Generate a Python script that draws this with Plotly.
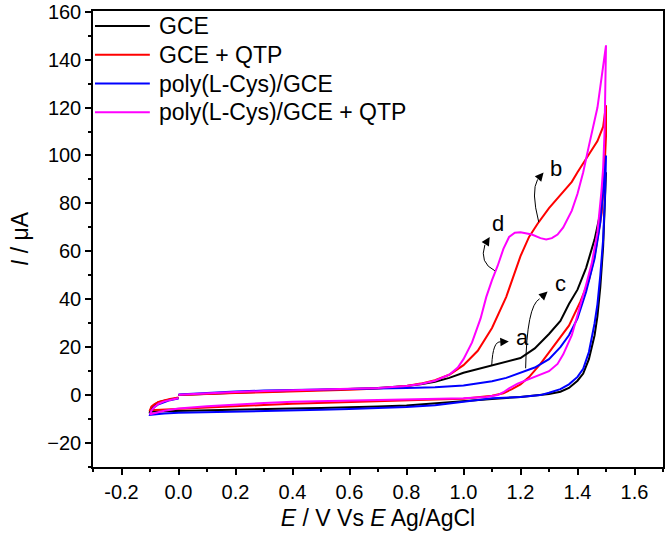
import plotly.graph_objects as go

# ---------------- data ----------------
E_gce = [0.0, 0.1, 0.2, 0.3, 0.4, 0.5, 0.6, 0.7, 0.8, 0.85, 0.9, 0.95, 1.0, 1.05, 1.1, 1.15, 1.2, 1.25, 1.3, 1.34, 1.37, 1.4, 1.43, 1.46, 1.48, 1.5,
         1.495, 1.49, 1.48, 1.47, 1.46, 1.44, 1.42, 1.4, 1.37, 1.34, 1.3, 1.25, 1.2, 1.1, 1.0, 0.9, 0.8, 0.7, 0.6, 0.5, 0.4, 0.3, 0.2, 0.1, 0.0, -0.05, -0.09, -0.1,
         -0.095, -0.085, -0.07, -0.05, -0.03, -0.01, 0.0]
I_gce = [0.0, 0.6, 1.0, 1.4, 1.8, 2.1, 2.5, 3.0, 3.8, 4.5, 5.6, 7.2, 9.3, 10.8, 12.4, 13.8, 15.5, 19.5, 25.5, 31, 38, 44, 53, 65, 76, 93,
         78, 62, 45, 33, 25, 15, 9, 6, 3, 1.4, 0.5, -0.2, -0.8, -1.6, -2.5, -3.6, -4.3, -4.8, -5.2, -5.4, -5.6, -5.8, -6.0, -6.2, -6.4, -6.6, -6.8, -7.0,
         -5.2, -4.0, -3.0, -2.3, -1.8, -1.4, -1.2]

E_gce_qtp = [0.0, 0.1, 0.2, 0.3, 0.4, 0.5, 0.6, 0.7, 0.8, 0.85, 0.9, 0.95, 1.0, 1.05, 1.1, 1.15, 1.2, 1.23, 1.26, 1.3, 1.33, 1.38, 1.4, 1.45, 1.47, 1.49, 1.5,
             1.5, 1.495, 1.485, 1.46, 1.44, 1.41, 1.37, 1.32, 1.27, 1.23, 1.2, 1.17, 1.14, 1.1, 1.05, 1.0, 0.9, 0.8, 0.7, 0.6, 0.5, 0.4, 0.3, 0.2, 0.1, 0.0, -0.05, -0.1,
             -0.095, -0.085, -0.07, -0.05, -0.03, -0.01, 0.0]
I_gce_qtp = [0.0, 0.6, 0.9, 1.2, 1.5, 1.8, 2.2, 2.8, 3.8, 4.8, 6.2, 8.5, 12.5, 18.5, 28, 41, 58, 66, 71.5, 78, 82, 89, 93, 102, 106, 112, 121,
             108, 95, 76, 58, 48, 39, 29, 21, 13, 7.5, 4.5, 2.5, 0.8, -0.3, -1.0, -1.5, -1.8, -2.1, -2.5, -2.9, -3.3, -3.6, -4.1, -4.6, -5.1, -5.6, -5.9, -6.3,
             -4.8, -3.8, -2.8, -2.1, -1.6, -1.2, -1.0]

E_pcys = [0.0, 0.1, 0.2, 0.3, 0.4, 0.5, 0.6, 0.7, 0.8, 0.9, 1.0, 1.05, 1.1, 1.15, 1.2, 1.25, 1.3, 1.34, 1.37, 1.4, 1.43, 1.46, 1.48, 1.5,
          1.497, 1.49, 1.48, 1.47, 1.46, 1.44, 1.42, 1.4, 1.37, 1.34, 1.3, 1.27, 1.2, 1.1, 1.05, 1.0, 0.94, 0.9, 0.8, 0.7, 0.6, 0.5, 0.4, 0.3, 0.2, 0.1, 0.0, -0.05, -0.1,
          -0.095, -0.085, -0.07, -0.05, -0.03, -0.01, 0.0]
I_pcys = [0.3, 1.0, 1.5, 1.9, 2.2, 2.4, 2.6, 2.8, 3.0, 3.3, 4.0, 4.8, 5.8, 7.2, 9.5, 11.5, 15, 20, 25, 32, 43, 57, 72, 100,
          85, 65, 50, 38, 30, 18, 11, 7.6, 4.5, 2.5, 1.0, 0.0, -0.8, -1.3, -2.0, -2.8, -3.5, -4.2, -5.0, -5.5, -5.8, -6.1, -6.3, -6.6, -6.9, -7.1, -7.4, -7.7, -8.2,
          -6.5, -5.0, -3.8, -2.8, -2.1, -1.6, -1.4]

E_pcys_qtp = [0.0, 0.1, 0.2, 0.3, 0.4, 0.5, 0.6, 0.7, 0.8, 0.85, 0.9, 0.95, 0.98, 1.0, 1.03, 1.06, 1.08, 1.1, 1.12, 1.14, 1.16, 1.18, 1.2, 1.24, 1.27, 1.29, 1.31, 1.33, 1.35, 1.38, 1.4, 1.42, 1.44, 1.47, 1.5,
              1.498, 1.495, 1.49, 1.484, 1.47, 1.45, 1.43, 1.4, 1.38, 1.35, 1.33, 1.3, 1.27, 1.25, 1.22, 1.19, 1.16, 1.14, 1.12, 1.08, 1.0, 0.9, 0.8, 0.7, 0.6, 0.5, 0.4, 0.3, 0.2, 0.1, 0.0, -0.05, -0.1,
              -0.095, -0.085, -0.07, -0.05, -0.03, -0.01, 0.0]
I_pcys_qtp = [0.2, 0.9, 1.3, 1.7, 2.0, 2.3, 2.6, 3.0, 3.8, 4.6, 6.0, 8.5, 11.5, 15, 22, 32, 41, 48, 54, 61, 66, 67.8, 68, 67, 65.5, 65, 65.5, 67, 70, 77, 84, 93, 104, 120, 146,
              125, 110, 95, 85, 68, 55, 46, 33, 25, 17, 13, 10, 8.5, 7.6, 6.3, 4.8, 2.8, 1.2, 0.0, -0.8, -1.3, -1.5, -1.7, -1.9, -2.1, -2.4, -2.8, -3.3, -3.9, -4.6, -5.6, -6.5, -8.0,
              -6.5, -5.0, -3.6, -2.6, -1.9, -1.5, -1.3]

series_names = ["GCE", "GCE + QTP", "poly(L-Cys)/GCE", "poly(L-Cys)/GCE + QTP"]
series_colors = ["#000000", "#ff0000", "#0000ff", "#ff00ff"]
series_E = [E_gce, E_gce_qtp, E_pcys, E_pcys_qtp]
series_I = [I_gce, I_gce_qtp, I_pcys, I_pcys_qtp]

x_tick_vals = [-0.2, 0.0, 0.2, 0.4, 0.6, 0.8, 1.0, 1.2, 1.4, 1.6]
x_tick_text = ["-0.2", "0.0", "0.2", "0.4", "0.6", "0.8", "1.0", "1.2", "1.4", "1.6"]
y_tick_vals = [-20, 0, 20, 40, 60, 80, 100, 120, 140, 160]

# curved-arrow labels: letter, text pos, path start, control, end, arrow tip
labels = ["a", "b", "c", "d"]
label_pos = [(1.208, 24.1), (1.323, 94.6), (1.34, 46.5), (1.12, 71.8)]
arrow_start = [(1.099, 12.4), (1.264, 72.2), (1.218, 11.2), (1.11, 51.9)]
arrow_ctrl = [(1.103, 22.8), (1.236, 85.1), (1.222, 37.3), (1.054, 55.2)]
arrow_end = [(1.131, 22.2), (1.26, 90.0), (1.267, 40.2), (1.075, 62.7)]
arrow_tip = [(1.159, 22.4), (1.281, 92.9), (1.295, 43.2), (1.092, 66.0)]

FONT = "Liberation Sans, Arial, sans-serif"

fig = go.Figure()
for name, col, ex, iy in zip(series_names, series_colors, series_E, series_I):
    fig.add_trace(go.Scatter(x=ex, y=iy, mode="lines", name=name,
                             line=dict(color=col, width=2), showlegend=False))

shapes = []
annotations = []
for lab, tp, s, c, e, t in zip(labels, label_pos, arrow_start, arrow_ctrl, arrow_end, arrow_tip):
    shapes.append(dict(type="path", xref="x", yref="y",
                       path=f"M {s[0]},{s[1]} Q {c[0]},{c[1]} {e[0]},{e[1]}",
                       line=dict(color="black", width=1)))
    annotations.append(dict(x=t[0], y=t[1], ax=e[0], ay=e[1], axref="x", ayref="y",
                            xref="x", yref="y", text="", showarrow=True,
                            arrowhead=2, arrowsize=1.7, arrowwidth=1, arrowcolor="black"))
    annotations.append(dict(x=tp[0], y=tp[1], xref="x", yref="y", text=lab,
                            showarrow=False, font=dict(family=FONT, size=22, color="black")))

# legend (drawn in paper coordinates, one row per series)
leg_row_y = [0.967, 0.904, 0.841, 0.778]
for name, col, ry in zip(series_names, series_colors, leg_row_y):
    shapes.append(dict(type="line", xref="paper", yref="paper",
                       x0=0.0035, x1=0.0997, y0=ry, y1=ry,
                       line=dict(color=col, width=2)))
    annotations.append(dict(x=0.112, y=ry, xref="paper", yref="paper", text=name,
                            xanchor="left", yanchor="middle", showarrow=False,
                            font=dict(family=FONT, size=23, color="black")))

fig.update_layout(
    width=666, height=541,
    margin=dict(l=93, r=1, t=8, b=74),
    paper_bgcolor="white", plot_bgcolor="white",
    font=dict(family=FONT, color="black"),
    shapes=shapes, annotations=annotations,
    showlegend=False,
    xaxis=dict(range=[-0.3, 1.7], tickvals=x_tick_vals, ticktext=x_tick_text,
               showgrid=False, zeroline=False, showline=True, linecolor="black",
               linewidth=1.5, mirror=True, ticks="outside", ticklen=6, tickwidth=1.5,
               tickcolor="black", tickfont=dict(family=FONT, size=20, color="black"),
               ticklabeloverflow="allow",
               minor=dict(ticks="outside", ticklen=3, tickwidth=1.5, tickcolor="black", dtick=0.1, tick0=0),
               title=dict(text="<i>E</i> / V Vs <i>E</i> Ag/AgCl",
                          font=dict(family=FONT, size=23, color="black"), standoff=8)),
    yaxis=dict(range=[-30, 160.3], tickvals=y_tick_vals,
               showgrid=False, zeroline=False, showline=True, linecolor="black",
               linewidth=1.5, mirror=True, ticks="outside", ticklen=6, tickwidth=1.5,
               tickcolor="black", tickfont=dict(family=FONT, size=20, color="black"),
               ticklabeloverflow="allow",
               minor=dict(ticks="outside", ticklen=3, tickwidth=1.5, tickcolor="black", dtick=10, tick0=0),
               title=dict(text="<i>I</i> / μA",
                          font=dict(family=FONT, size=23, color="black"), standoff=12)),
)

fig.write_html("out.html")
